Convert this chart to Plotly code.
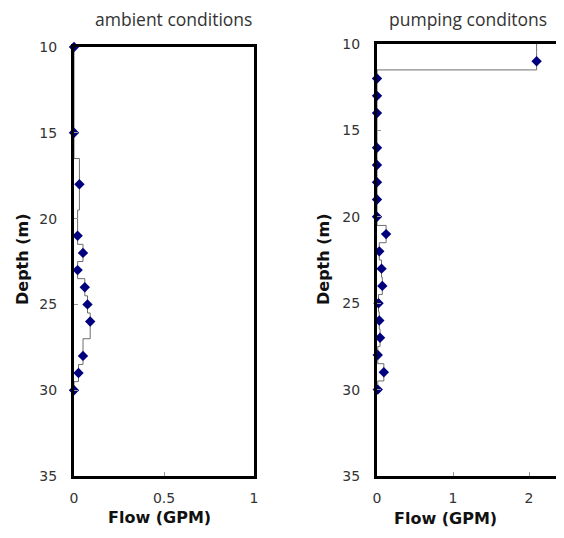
import plotly.graph_objects as go

# ---- data ----
amb_depth = [10, 15, 18, 21, 22, 23, 24, 25, 26, 28, 29, 30]
amb_flow = [0, 0, 0.03, 0.02, 0.05, 0.02, 0.06, 0.075, 0.09, 0.05, 0.025, 0]

pump_depth = [11, 12, 13, 14, 16, 17, 18, 19, 20, 21, 22, 23, 24, 25, 26, 27, 28, 29, 30]
pump_flow = [2.1, 0, 0, 0, 0, 0, 0, 0, 0, 0.12, 0.03, 0.06, 0.07, 0.02, 0.03, 0.04, 0.01, 0.09, 0.01]

depth_ticks = [10, 15, 20, 25, 30, 35]
amb_flow_ticks = [0, 0.5, 1]
pump_flow_ticks = [0, 1, 2]
depth_top = 10

W, H = 564, 538
OFF = 8  # default page body margin offsets the figure in the window
NAVY = "#00007f"
STEP = "#6e6e6e"

fig = go.Figure()

# step lines (interval flow) + diamond markers
for flow, depth, xa, ya in [(amb_flow, amb_depth, "x", "y"), (pump_flow, pump_depth, "x2", "y2")]:
    fig.add_trace(go.Scatter(
        x=[flow[0]] + list(flow), y=[depth_top] + list(depth),
        mode="lines", line=dict(color=STEP, width=1, shape="vhv"),
        xaxis=xa, yaxis=ya, hoverinfo="skip", showlegend=False, cliponaxis=True))
    fig.add_trace(go.Scatter(
        x=flow, y=depth, mode="markers",
        marker=dict(symbol="diamond", size=8, color=NAVY, line=dict(width=0)),
        xaxis=xa, yaxis=ya, showlegend=False, cliponaxis=False))

tickfont = dict(family="DejaVu Sans, sans-serif", size=14, color="#333333")
common_ax = dict(showgrid=False, zeroline=False, showline=True, linecolor="black", linewidth=3,
                 ticks="inside", ticklen=4, tickwidth=1, tickcolor="#999999", tickfont=tickfont,
                 automargin=False)

def px(v):
    return (v - OFF) / W

def py(v):
    return 1 - (v - OFF) / H

x0_left, x1_left = 74, 254
x0_right = 377
scale_right = 76.0

fig.update_layout(
    width=W, height=H, margin=dict(l=0, r=0, t=0, b=0),
    paper_bgcolor="white", plot_bgcolor="white",
    xaxis=dict(domain=[px(x0_left), px(x1_left)], range=[0, 1], tickvals=amb_flow_ticks,
               ticktext=["0", "0.5", "1"], anchor="y", mirror=True,
               ticklabelstandoff=7, **common_ax),
    yaxis=dict(domain=[py(476), py(47)], range=[35, 10], tickvals=depth_ticks,
               anchor="x", mirror=True, ticklabelstandoff=11, **common_ax),
    xaxis2=dict(domain=[px(x0_right), 1.0], range=[0, (W + OFF - x0_right) / scale_right],
                tickvals=pump_flow_ticks,
                anchor="y2", mirror=True, ticklabelstandoff=7, **common_ax),
    yaxis2=dict(domain=[py(476), py(44)], range=[35, 10], tickvals=depth_ticks,
                anchor="x2", mirror=False, ticklabelstandoff=11, **common_ax),
)

title_font = dict(family="Open Sans, Lato, sans-serif", size=17.5, color="#333333")
axis_title_font = dict(family="DejaVu Sans, sans-serif", size=16, color="#111111")

annos = [
    dict(text="ambient conditions", x=px(173), y=py(19.5), font=title_font),
    dict(text="pumping conditons", x=px(468), y=py(19), font=title_font),
    dict(text="<b>Flow (GPM)</b>", x=px(159), y=py(517), font=axis_title_font),
    dict(text="<b>Flow (GPM)</b>", x=px(445), y=py(518), font=axis_title_font),
    dict(text="<b>Depth (m)</b>", x=px(22), y=py(259), textangle=-90, font=axis_title_font),
    dict(text="<b>Depth (m)</b>", x=px(323), y=py(259), textangle=-90, font=axis_title_font),
]
for a in annos:
    fig.add_annotation(xref="paper", yref="paper", showarrow=False,
                       xanchor="center", yanchor="middle", **a)

fig.write_html("out.html")
